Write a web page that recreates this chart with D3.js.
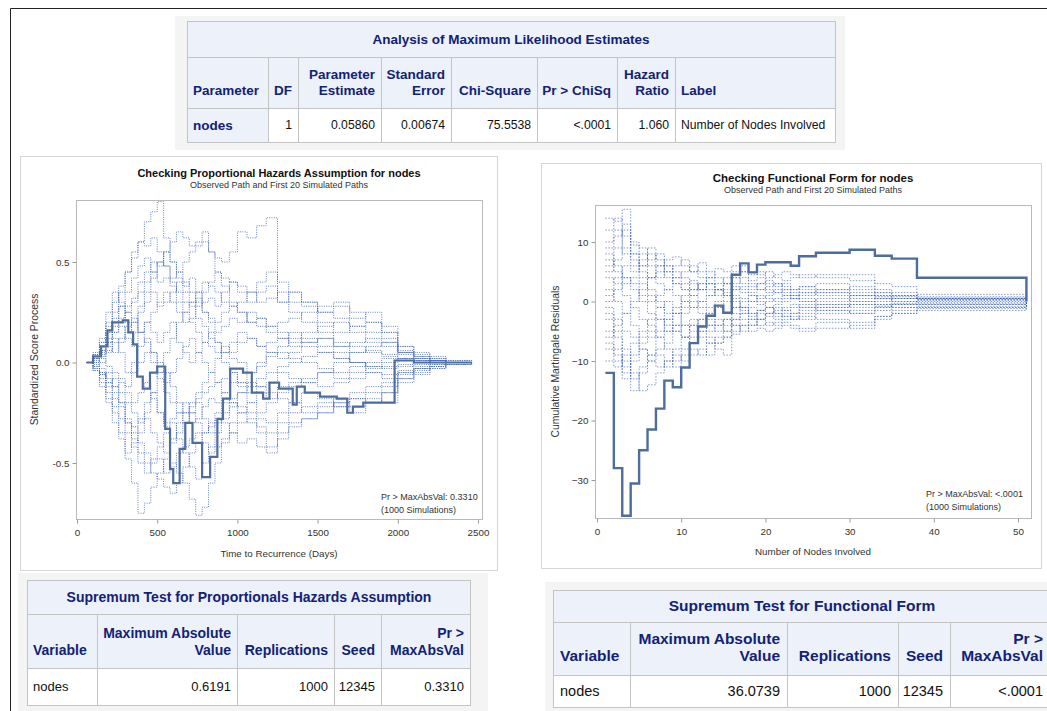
<!DOCTYPE html>
<html>
<head>
<meta charset="utf-8">
<script src="https://cdn.jsdelivr.net/npm/d3@7"></script>
<style>
  body { margin: 0; background: #fff; }
  svg { display: block; font-family: "Liberation Sans", Arial, sans-serif; }
</style>
</head>
<body>
<svg id="page" width="1047" height="711"></svg>
<script>
// ---------- Maximum likelihood estimates table ----------
const mleTitle = "Analysis of Maximum Likelihood Estimates";
const mleHeaders = [["Parameter"], ["DF"], ["Parameter", "Estimate"], ["Standard", "Error"],
                    ["Chi-Square"], ["Pr > ChiSq"], ["Hazard", "Ratio"], ["Label"]];
const mleRow = ["nodes", "1", "0.05860", "0.00674", "75.5538", "<.0001", "1.060", "Number of Nodes Involved"];

// ---------- Supremum test tables ----------
const supHeaders = [["Variable"], ["Maximum Absolute", "Value"], ["Replications"], ["Seed"], ["Pr >", "MaxAbsVal"]];
const phTestTitle = "Supremum Test for Proportionals Hazards Assumption";
const phTestRow = ["nodes", "0.6191", "1000", "12345", "0.3310"];
const ffTestTitle = "Supremum Test for Functional Form";
const ffTestRow = ["nodes", "36.0739", "1000", "12345", "<.0001"];

// ---------- Proportional hazards plot (standardized score process) ----------
const phXTicks = [0, 500, 1000, 1500, 2000, 2500];
const phYTicks = [-0.5, 0.0, 0.5];
const phObsTimes = [60, 100, 150, 190, 220, 285, 320, 350, 375, 410, 455, 500, 550, 580, 600, 640, 675, 720, 780, 830,
                    875, 910, 955, 1035, 1090, 1160, 1200, 1260, 1345, 1370, 1420, 1515, 1620, 1685, 1720, 1785, 1850, 1980, 2100, 2250, 2460];
const phObsValues = [0.0, 0.03, 0.08, 0.16, 0.2, 0.21, 0.15, 0.09, -0.07, -0.13, -0.05, -0.02, -0.33, -0.53, -0.6, -0.43, -0.3, -0.4, -0.57, -0.47,
                     -0.28, -0.18, -0.03, -0.05, -0.15, -0.18, -0.1, -0.13, -0.21, -0.12, -0.15, -0.17, -0.18, -0.25, -0.22, -0.2, -0.2, 0.01, 0.0, 0.0, 0.0];
const phSimTimes = [60, 100, 140, 180, 220, 260, 300, 340, 380, 420, 460, 500, 540, 580, 620, 660, 700, 740, 780, 820,
                    860, 900, 950, 1000, 1060, 1120, 1180, 1250, 1320, 1400, 1500, 1600, 1700, 1800, 1900, 2000, 2100, 2200, 2300, 2460];
const phSim01 = [0, 0.02, 0.08, 0.2, 0.3, 0.38, 0.45, 0.52, 0.6, 0.7, 0.75, 0.8, 0.62, 0.5, 0.42, 0.35, 0.3, 0.22, 0.18, 0.12, 0.1, 0.05, 0.02, 0.0, -0.05, -0.02, 0.03, 0.05, 0.02, 0.0, -0.03, -0.05, -0.02, 0.0, 0.02, 0.01, 0.0, 0.01, 0.0, 0.0];
const phSim02 = [0, -0.03, -0.1, -0.18, -0.25, -0.35, -0.48, -0.6, -0.75, -0.7, -0.62, -0.55, -0.48, -0.4, -0.35, -0.3, -0.22, -0.18, -0.15, -0.12, -0.1, -0.08, -0.05, -0.1, -0.12, -0.08, -0.05, -0.02, 0.0, 0.03, 0.05, 0.02, 0.0, -0.02, -0.03, -0.02, -0.01, 0.0, 0.0, 0.0];
const phSim03 = [0, 0.03, 0.06, 0.12, 0.18, 0.22, 0.28, 0.3, 0.35, 0.4, 0.45, 0.5, 0.48, 0.42, 0.45, 0.5, 0.55, 0.58, 0.6, 0.55, 0.52, 0.5, 0.55, 0.65, 0.62, 0.68, 0.72, 0.3, 0.25, 0.2, 0.15, 0.1, 0.08, 0.05, 0.03, 0.02, 0.01, 0.0, 0.0, 0.0];
const phSim04 = [0, 0.0, -0.05, -0.1, -0.08, -0.15, -0.2, -0.25, -0.3, -0.28, -0.35, -0.4, -0.45, -0.5, -0.55, -0.6, -0.68, -0.76, -0.72, -0.6, -0.5, -0.4, -0.3, -0.25, -0.2, -0.15, -0.18, -0.12, -0.1, -0.08, -0.05, -0.08, -0.05, -0.03, -0.02, -0.01, 0.0, 0.0, 0.0, 0.0];
const phSim05 = [0, 0.02, 0.05, 0.1, 0.15, 0.2, 0.25, 0.32, 0.4, 0.45, 0.5, 0.48, 0.55, 0.6, 0.65, 0.62, 0.58, 0.6, 0.65, 0.55, 0.45, 0.38, 0.3, 0.25, 0.2, 0.18, 0.15, 0.12, 0.15, 0.1, 0.12, 0.08, 0.05, 0.06, 0.04, 0.02, 0.01, 0.0, 0.0, 0.0];
const phSim06 = [0, 0.04, 0.1, 0.15, 0.22, 0.28, 0.2, 0.15, 0.25, 0.3, 0.35, 0.28, 0.3, 0.35, 0.4, 0.38, 0.42, 0.35, 0.3, 0.32, 0.28, 0.35, 0.4, 0.38, 0.35, 0.3, 0.32, 0.35, 0.3, 0.28, 0.25, 0.28, 0.22, 0.25, 0.18, 0.08, 0.04, 0.02, 0.01, 0.0];
const phSim07 = [0, -0.02, -0.06, -0.12, -0.18, -0.2, -0.28, -0.32, -0.4, -0.45, -0.5, -0.48, -0.55, -0.52, -0.45, -0.42, -0.38, -0.35, -0.4, -0.45, -0.42, -0.38, -0.35, -0.3, -0.28, -0.32, -0.35, -0.3, -0.25, -0.22, -0.2, -0.22, -0.18, -0.2, -0.15, -0.08, -0.05, -0.03, -0.01, 0.0];
const phSim08 = [0, 0.03, 0.0, 0.05, 0.1, 0.05, -0.05, 0.0, 0.08, 0.12, 0.05, -0.05, -0.1, -0.05, 0.02, 0.08, 0.12, 0.05, 0.0, -0.05, 0.02, 0.08, 0.05, 0.1, 0.12, 0.08, 0.05, 0.02, 0.05, 0.08, 0.05, 0.02, 0.0, -0.02, 0.0, 0.02, 0.01, 0.0, 0.0, 0.0];
const phSim09 = [0, -0.04, -0.08, -0.05, -0.12, -0.2, -0.3, -0.35, -0.28, -0.2, -0.15, -0.25, -0.32, -0.38, -0.3, -0.25, -0.2, -0.15, -0.1, -0.05, -0.1, -0.15, -0.2, -0.25, -0.3, -0.35, -0.42, -0.35, -0.3, -0.28, -0.25, -0.2, -0.22, -0.18, -0.2, -0.1, -0.06, -0.03, -0.01, 0.0];
const phSim10 = [0, 0.05, 0.12, 0.25, 0.35, 0.3, 0.25, 0.2, 0.15, 0.1, 0.05, 0.0, -0.05, -0.12, -0.2, -0.25, -0.3, -0.28, -0.22, -0.18, -0.2, -0.15, -0.1, -0.12, -0.15, -0.12, -0.1, -0.05, -0.08, -0.1, -0.12, -0.1, -0.08, -0.05, -0.06, -0.04, -0.02, -0.01, 0.0, 0.0];
const phSim11 = [0, 0.04, 0.1, 0.18, 0.25, 0.35, 0.45, 0.55, 0.6, 0.58, 0.62, 0.55, 0.48, 0.4, 0.35, 0.3, 0.28, 0.32, 0.25, 0.2, 0.15, 0.18, 0.22, 0.2, 0.25, 0.22, 0.18, 0.2, 0.22, 0.25, 0.28, 0.3, 0.25, 0.2, 0.15, 0.06, 0.03, 0.02, 0.0, 0.0];
const phSim12 = [0, -0.02, -0.05, -0.1, -0.15, -0.22, -0.3, -0.38, -0.45, -0.5, -0.55, -0.58, -0.62, -0.65, -0.6, -0.52, -0.45, -0.4, -0.35, -0.3, -0.25, -0.2, -0.18, -0.15, -0.1, -0.12, -0.15, -0.18, -0.2, -0.25, -0.22, -0.18, -0.15, -0.12, -0.1, -0.05, -0.03, -0.02, 0.0, 0.0];
const phSim13 = [0, 0.01, 0.04, 0.08, 0.05, 0.12, 0.18, 0.22, 0.15, 0.2, 0.25, 0.3, 0.35, 0.3, 0.25, 0.2, 0.22, 0.28, 0.35, 0.4, 0.45, 0.42, 0.4, 0.35, 0.3, 0.35, 0.38, 0.3, 0.35, 0.3, 0.2, 0.15, 0.18, 0.15, 0.12, 0.05, 0.03, 0.01, 0.0, 0.0];
const phSim14 = [0, -0.03, -0.06, -0.15, -0.22, -0.28, -0.35, -0.42, -0.5, -0.55, -0.48, -0.42, -0.35, -0.3, -0.38, -0.45, -0.52, -0.58, -0.5, -0.42, -0.35, -0.28, -0.22, -0.15, -0.2, -0.25, -0.2, -0.15, -0.12, -0.1, -0.05, 0.0, 0.05, 0.08, 0.1, 0.05, 0.02, 0.01, 0.0, 0.0];
const phSim15 = [0, 0.02, 0.03, 0.06, 0.12, 0.1, 0.15, 0.2, 0.28, 0.35, 0.42, 0.5, 0.55, 0.5, 0.45, 0.4, 0.35, 0.3, 0.25, 0.22, 0.2, 0.25, 0.28, 0.3, 0.35, 0.4, 0.45, 0.4, 0.35, 0.3, 0.25, 0.22, 0.18, 0.2, 0.15, 0.08, 0.05, 0.03, 0.01, 0.0];
const phSim16 = [0, -0.01, -0.03, -0.08, -0.12, -0.1, -0.15, -0.2, -0.15, -0.1, -0.18, -0.25, -0.3, -0.28, -0.25, -0.2, -0.25, -0.3, -0.35, -0.32, -0.28, -0.3, -0.35, -0.4, -0.38, -0.42, -0.45, -0.38, -0.32, -0.28, -0.25, -0.2, -0.18, -0.15, -0.12, -0.06, -0.03, -0.02, 0.0, 0.0];
const phSim17 = [0, 0.02, 0.06, 0.1, 0.15, 0.18, 0.12, 0.08, 0.15, 0.2, 0.15, 0.1, 0.15, 0.2, 0.1, 0.05, 0.0, 0.05, 0.1, 0.15, 0.1, 0.05, 0.1, 0.15, 0.12, 0.08, 0.1, 0.12, 0.08, 0.1, 0.12, 0.08, 0.1, 0.12, 0.1, 0.05, 0.02, 0.01, 0.0, 0.0];
const phSim18 = [0, -0.04, -0.12, -0.2, -0.3, -0.38, -0.45, -0.4, -0.35, -0.25, -0.15, -0.05, 0.05, 0.12, 0.2, 0.25, 0.3, 0.35, 0.4, 0.38, 0.35, 0.3, 0.28, 0.25, 0.2, 0.22, 0.18, 0.15, 0.1, 0.12, 0.08, 0.05, 0.0, -0.05, -0.08, -0.05, -0.03, -0.01, 0.0, 0.0];
const phSim19 = [0, 0.0, 0.02, -0.02, -0.05, -0.08, -0.12, -0.05, 0.0, 0.05, 0.0, -0.08, -0.15, -0.2, -0.25, -0.3, -0.25, -0.2, -0.28, -0.35, -0.3, -0.25, -0.2, -0.22, -0.25, -0.28, -0.3, -0.25, -0.2, -0.15, -0.18, -0.22, -0.25, -0.2, -0.15, -0.08, -0.04, -0.02, -0.01, 0.0];
const phSim20 = [0, 0.03, 0.08, 0.15, 0.2, 0.28, 0.35, 0.42, 0.48, 0.52, 0.45, 0.4, 0.42, 0.38, 0.3, 0.25, 0.2, 0.15, 0.1, 0.08, 0.05, 0.0, -0.05, -0.1, -0.05, 0.0, 0.05, 0.08, 0.12, 0.15, 0.18, 0.2, 0.15, 0.1, 0.08, 0.04, 0.02, 0.01, 0.0, 0.0];

// ---------- Functional form plot (cumulative martingale residuals) ----------
const ffXTicks = [0, 10, 20, 30, 40, 50];
const ffYTicks = [-30, -20, -10, 0, 10];
const ffNodes = [1, 2, 3, 4, 5, 6, 7, 8, 9, 10, 11, 12, 13, 14, 15, 16, 17, 18, 19, 20, 21, 22, 23, 24, 26, 30, 33, 35, 38, 51];
const ffObserved = [-12, -28, -36, -30.6, -25, -21.5, -18, -13.3, -14.4, -11.1, -7, -4.2, -2.4, -0.7, -1.9, 4.5, 6.4, 4.9, 6.2, 6.6, 6.6, 6.6, 6.0, 7.6, 8.2, 8.7, 7.7, 7.2, 4.0, 0];
const ffSim01 = [14, 13.5, 15.5, 10, 8, 6, 4, 5, 3, 2, 3.5, 2, 1, 2, 3, 4, 3, 2.5, 3, 2, 1.5, 2, 1, 1.5, 1, 0.5, 0.8, 0.5, 0.3, 0];
const ffSim02 = [-2, -5, -8, -12, -15, -14, -12, -10, -11, -9, -8, -9, -7, -6, -5, -3, -2, -2.5, -1.5, -1, -2, -1.5, -1, -0.5, -1, -0.5, -0.8, -0.5, -0.4, 0];
const ffSim03 = [5, 7, 9, 8, 6, 4, 6, 7, 7.5, 6, 5, 6.5, 5, 4, 3, 4, 5, 3.5, 4, 3, 2.5, 3, 2, 2.5, 3, 2, 1, 0.5, 0.5, 0];
const ffSim04 = [-5, -8, -13, -10, -8, -9, -6, -5, -4, -6, -7, -5, -4, -3, -4, -2, -1, -2, -3, -2, -1, -1.5, -2, -1, -0.5, -1, -0.5, -1, -0.8, 0];
const ffSim05 = [8, 6, 4, 2, 0, -2, -3, -5, -4, -2, -1, 0, 1, 2, 1, 2, 1.5, 1, 0.5, 1, 1.5, 1, 0.5, 1, 1.5, 1, 0.5, 0, 0.2, 0];
const ffSim06 = [-8, -10, -12, -15, -11, -9, -8, -7, -5, -4, -3, -4, -5, -4, -3, -4, -5, -4, -3, -4, -3.5, -3, -2.5, -3, -2, -1.5, -1, -0.5, -0.5, 0];
const ffSim07 = [10, 12, 8, 6, 5, 4, 3, 2, 4, 5, 6, 5, 4, 5.5, 5, 6, 5, 4.5, 5, 4, 4.5, 5, 4.5, 4, 4.5, 4.5, 3, 2.5, 1.2, 0];
const ffSim08 = [2, 0, -2, -4, -6, -5, -3, -4, -2, -1, 0, -1, -2, -1, 0, 1, 0.5, 0, -0.5, 0, 0.5, 1, 0.5, 0, -0.5, 0, 0.5, 0, -0.2, 0];
const ffSim09 = [-10, -11, -9, -7, -5, -3, -1, 0, -2, -4, -5, -6, -7, -8, -9, -5.5, -4, -3, -2, -2.5, -3, -2.5, -3, -2, -1.5, -2, -1.5, -1, -1, 0];
const ffSim10 = [6, 9, 12, 9.5, 9, 7, 8, 6, 5, 4, 3, 2, 3, 2, 1, 0, -1, 0, 1, 0.5, 0, 0.5, 1, 0.5, 0, 1, 0.5, 0.8, 0.5, 0];
const ffSim11 = [-3, -6, -10, -13, -12, -10, -11, -10, -9, -10, -9, -8, -9, -7, -6, -5, -4, -5, -4.5, -5, -4.5, -4, -4.5, -5, -4.5, -4, -3, -2, -1.5, 0];
const ffSim12 = [12, 14, 11, 7, 4, 2, 0, -2, -1, 1, 2, 3, 2, 1, 2, 3, 4, 3, 2, 2.5, 3, 2.5, 2, 2.5, 2, 1.5, 1, 1, 0.5, 0];
const ffSim13 = [0, 2, 4, 3, 1, 0, 1, 2, 1, 0, -1, -2, -3, -4, -5, -3, -2, -1, -1.5, -2, -1.5, -1, -0.5, -1, -1.5, -2, -1, -0.5, 0, 0];
const ffSim14 = [4, 3, 1, -1, -3, -4, -6, -8, -10, -8, -6, -5, -6, -7, -6, -4, -3, -4, -3, -2, -2.5, -2, -3, -2.5, -3, -3.5, -2.5, -2, -1, 0];
const ffSim15 = [-6, -4, -2, 0, 2, 4, 5, 6, 4, 3, 2, 3, 4, 3, 4, 5, 6, 5, 4.5, 5, 4, 3.5, 4, 4.5, 4, 3.5, 2, 1.5, 0.8, 0];
const ffSim16 = [9, 11, 13, 8, 6, 8, 7, 5, 6, 7, 5, 4, 3, 2, 1.5, 2, 2.5, 2, 3, 3.5, 3, 2, 1.5, 2, 1.5, 1, 1.5, 1, 0.5, 0];
const ffSim17 = [-1, -3, -5, -6, -8, -10, -9, -11, -8, -6, -4, -3, -2, -1, -2, -1, 0, 1, 0, -1, -0.5, 0, 0.5, 0, 0.5, 0, -0.5, -0.3, -0.5, 0];
const ffSim18 = [1, 4, 6, 5, 7, 9, 6, 4, 3, 2, 1, 0, -1, 0, 1, 0.5, -1, -2, -1.5, -1, -2, -2.5, -2, -1.5, -1, -0.5, 0, 0.5, 0.3, 0];
const ffSim19 = [-7, -9, -11, -9, -7, -6, -5, -3, -2, 0, 1, 2, 3, 2, 3, 2.5, 2, 1.5, 2, 1.5, 2, 1.5, 1, 1.5, 2, 2.5, 1.5, 1, 0.6, 0];
const ffSim20 = [7, 5, 3, 4, 3, 1, -1, -3, -5, -6, -4, -3, -4, -5, -3, -1, -1.5, -3, -4, -3.5, -4, -3.5, -4, -4.5, -3.5, -4.5, -2.5, -1.5, -1.2, 0];

const phSimPaths = [phSim01, phSim02, phSim03, phSim04, phSim05, phSim06, phSim07, phSim08, phSim09, phSim10,
                    phSim11, phSim12, phSim13, phSim14, phSim15, phSim16, phSim17, phSim18, phSim19, phSim20];
const ffSimPaths = [ffSim01, ffSim02, ffSim03, ffSim04, ffSim05, ffSim06, ffSim07, ffSim08, ffSim09, ffSim10,
                    ffSim11, ffSim12, ffSim13, ffSim14, ffSim15, ffSim16, ffSim17, ffSim18, ffSim19, ffSim20];

// ---------- styling ----------
const headBg = "#edf1f9";
const cellLine = "#c4c4c4";
const headInk = "#112277";
const obsColor = "#4d6d9c";
const simColor = "#3f63b8";

const svg = d3.select("#page");
svg.append("rect").attr("width", 1047).attr("height", 711).attr("fill", "#fff");
// outer frame of the output page
svg.append("path").attr("d", "M10.5,720 V8.5 H1060").attr("fill", "none").attr("stroke", "#222").attr("stroke-width", 1);

// ---------- table helper ----------
function drawTable(opt) {
  const g = svg.append("g");
  const cols = opt.cols, rows = opt.rows;
  const xL = cols[0], xR = cols[cols.length - 1];
  if (opt.surround) {
    const s = opt.surround;
    g.append("rect").attr("x", s[0]).attr("y", s[1]).attr("width", s[2]).attr("height", s[3])
      .attr("fill", "#f4f4f4");
  }
  const cell = (x0, y0, x1, y1, fill) =>
    g.append("rect").attr("x", x0 + 0.5).attr("y", y0 + 0.5).attr("width", x1 - x0).attr("height", y1 - y0)
      .attr("fill", fill).attr("stroke", cellLine).attr("stroke-width", 1);
  cell(xL, rows[0], xR, rows[1], headBg);
  opt.headers.forEach((h, i) => cell(cols[i], rows[1], cols[i + 1], rows[2], headBg));
  opt.row.forEach((v, i) => cell(cols[i], rows[2], cols[i + 1], rows[3], (opt.rowHeader && i === 0) ? headBg : "#fff"));

  g.append("text").attr("x", opt.titleX).attr("y", (rows[0] + rows[1]) / 2)
    .attr("dy", "0.35em").attr("text-anchor", "middle")
    .attr("font-size", opt.headSize).attr("font-weight", "bold").attr("fill", headInk).text(opt.title);

  const pad = opt.pad;
  opt.headers.forEach((lines, i) => {
    const right = opt.align[i] === "end";
    const x = right ? cols[i + 1] - pad : cols[i] + pad;
    lines.forEach((ln, k) => {
      const y = opt.headLineY[opt.headLineY.length - lines.length + k];
      g.append("text").attr("x", x).attr("y", y).attr("dy", "0.35em")
        .attr("text-anchor", right ? "end" : "start")
        .attr("font-size", opt.headSize).attr("font-weight", "bold").attr("fill", headInk).text(ln);
    });
  });
  opt.row.forEach((v, i) => {
    const right = opt.align[i] === "end";
    const x = right ? cols[i + 1] - pad : cols[i] + pad;
    const isHead = opt.rowHeader && i === 0;
    g.append("text").attr("x", x).attr("y", (rows[2] + rows[3]) / 2).attr("dy", "0.35em")
      .attr("text-anchor", right ? "end" : "start")
      .attr("font-size", isHead ? opt.headSize : opt.dataSize).attr("font-weight", isHead ? "bold" : "normal")
      .attr("fill", isHead ? headInk : "#111").text(v);
  });
}

drawTable({
  title: mleTitle, headers: mleHeaders, row: mleRow, rowHeader: true,
  cols: [187, 268, 298, 381, 451, 537, 617, 675, 835],
  rows: [21, 57, 108, 142], titleX: 511,
  align: ["start", "end", "end", "end", "end", "end", "end", "start"],
  headLineY: [74, 90], headSize: 13.5, dataSize: 12.2, pad: 6,
  surround: [175, 16, 670, 134]
});

drawTable({
  title: phTestTitle, headers: supHeaders, row: phTestRow, rowHeader: false,
  cols: [27, 97, 237, 334, 381, 470],
  rows: [580, 614, 668, 705], titleX: 249,
  align: ["start", "end", "end", "end", "end"],
  headLineY: [633, 650], headSize: 14, dataSize: 13, pad: 6,
  surround: [18, 573, 470, 140]
});

drawTable({
  title: ffTestTitle, headers: supHeaders, row: ffTestRow, rowHeader: false,
  cols: [553, 630, 787, 898, 950, 1050],
  rows: [590, 622, 675, 707], titleX: 802,
  align: ["start", "end", "end", "end", "end"],
  headLineY: [639, 656], headSize: 15.5, dataSize: 14.5, pad: 7,
  surround: [545, 582, 510, 140]
});

// ---------- plot helper ----------
function drawPlot(opt) {
  const g = svg.append("g");
  g.append("rect").attr("x", opt.panel[0] + 0.5).attr("y", opt.panel[1] + 0.5)
    .attr("width", opt.panel[2]).attr("height", opt.panel[3])
    .attr("fill", "#fff").attr("stroke", "#d6d6d6");

  const [fx0, fy0, fx1, fy1] = opt.frame;
  const x = d3.scaleLinear().domain(opt.xDomain).range(opt.xRange);
  const y = d3.scaleLinear().domain(opt.yDomain).range(opt.yRange);

  const clipId = opt.id + "-clip";
  g.append("clipPath").attr("id", clipId).append("rect")
    .attr("x", fx0).attr("y", fy0).attr("width", fx1 - fx0).attr("height", fy1 - fy0);
  const plot = g.append("g").attr("clip-path", `url(#${clipId})`);

  const line = d3.line().x(d => x(d[0])).y(d => y(d[1])).curve(d3.curveStepAfter);

  opt.sims.forEach(vals => {
    plot.append("path").datum(opt.simX.map((t, i) => [t, vals[i]]))
      .attr("d", line).attr("fill", "none")
      .attr("stroke", simColor).attr("stroke-opacity", opt.simOpacity)
      .attr("stroke-width", 1).attr("stroke-dasharray", opt.dash);
  });
  plot.append("path").datum(opt.obsX.map((t, i) => [t, opt.obsY[i]]))
    .attr("d", line).attr("fill", "none")
    .attr("stroke", obsColor).attr("stroke-width", opt.obsWidth).attr("stroke-linejoin", "miter");

  // frame
  g.append("rect").attr("x", fx0 + 0.5).attr("y", fy0 + 0.5).attr("width", fx1 - fx0).attr("height", fy1 - fy0)
    .attr("fill", "none").attr("stroke", "#b9b9b9");

  // axes
  const xa = g.append("g").attr("transform", `translate(0,${fy1 + 0.5})`)
    .call(d3.axisBottom(x).tickValues(opt.xTicks).tickSize(4).tickPadding(6).tickFormat(opt.xFmt));
  const ya = g.append("g").attr("transform", `translate(${fx0 + 0.5},0)`)
    .call(d3.axisLeft(y).tickValues(opt.yTicks).tickSize(4).tickPadding(3).tickFormat(opt.yFmt));
  [xa, ya].forEach(a => {
    a.select(".domain").remove();
    a.selectAll("line").attr("stroke", "#9a9a9a");
    a.selectAll("text").attr("fill", "#333").attr("font-size", 9.8)
      .attr("font-family", "'Liberation Sans', Arial, sans-serif");
  });

  const cx = (fx0 + fx1) / 2;
  g.append("text").attr("x", cx).attr("y", opt.titleY).attr("text-anchor", "middle")
    .attr("font-size", opt.titleSize).attr("font-weight", "bold").attr("fill", "#111").text(opt.title);
  g.append("text").attr("x", cx).attr("y", opt.titleY + 11).attr("text-anchor", "middle")
    .attr("font-size", 9).attr("fill", "#333").text("Observed Path and First 20 Simulated Paths");
  g.append("text").attr("x", cx).attr("y", opt.xTitleY).attr("text-anchor", "middle")
    .attr("font-size", 9.8).attr("fill", "#333").text(opt.xTitle);
  g.append("text").attr("transform", `translate(${opt.yTitleX},${(fy0 + fy1) / 2}) rotate(-90)`)
    .attr("text-anchor", "middle").attr("font-size", 10.4).attr("fill", "#333").text(opt.yTitle);

  const note = g.append("text").attr("x", opt.noteX).attr("y", opt.noteY).attr("font-size", 9).attr("fill", "#333");
  note.append("tspan").text(opt.note);
  note.append("tspan").attr("x", opt.noteX).attr("dy", 13).text("(1000 Simulations)");
}

drawPlot({
  id: "ph",
  panel: [20, 156, 477, 414],
  frame: [76, 200, 482, 519],
  xDomain: [0, 2500], xRange: [77, 478],
  yDomain: [-0.5, 0.5], yRange: [463, 262],
  xTicks: phXTicks, yTicks: phYTicks,
  xFmt: d3.format("d"), yFmt: d => d.toFixed(1),
  simX: phSimTimes, sims: phSimPaths, obsX: phObsTimes, obsY: phObsValues,
  dash: "1,1.3", simOpacity: 0.8, obsWidth: 2.2,
  title: "Checking Proportional Hazards Assumption for nodes", titleSize: 11,
  titleY: 177, xTitle: "Time to Recurrence (Days)", xTitleY: 557,
  yTitle: "Standardized Score Process", yTitleX: 38,
  note: "Pr > MaxAbsVal: 0.3310", noteX: 381, noteY: 500
});

drawPlot({
  id: "ff",
  panel: [541, 163, 500, 405],
  frame: [595, 205, 1031, 518],
  xDomain: [0, 50], xRange: [597, 1018],
  yDomain: [-30, 10], yRange: [480, 242],
  xTicks: ffXTicks, yTicks: ffYTicks,
  xFmt: d3.format("d"), yFmt: d3.format("d"),
  simX: ffNodes, sims: ffSimPaths, obsX: ffNodes, obsY: ffObserved,
  dash: "1.5,1.5", simOpacity: 0.65, obsWidth: 2.4,
  title: "Checking Functional Form for nodes", titleSize: 11.5,
  titleY: 182, xTitle: "Number of Nodes Involved", xTitleY: 555,
  yTitle: "Cumulative Martingale Residuals", yTitleX: 559,
  note: "Pr > MaxAbsVal: <.0001", noteX: 926, noteY: 497
});
</script>
</body>
</html>
